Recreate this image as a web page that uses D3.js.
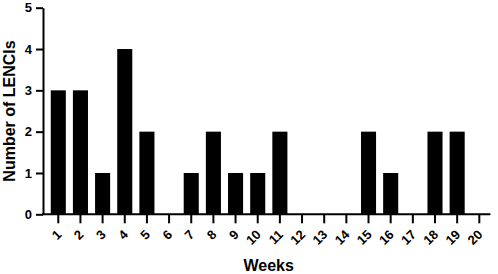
<!DOCTYPE html>
<html>
<head>
    <script src="https://cdn.jsdelivr.net/npm/d3@7"></script>
    <style>
        body { margin: 0; background: #fff; }
        text { font-family: Arial, "Liberation Sans", Helvetica, sans-serif; font-weight: bold; }
    </style>
</head>
<body>
    <svg width="498" height="274" id="mainsvg"></svg>
    <script>
        // data
        const weeks = ['1','2','3','4','5','6','7','8','9','10','11','12','13','14','15','16','17','18','19','20'];
        const lencis = [3, 3, 1, 4, 2, 0, 1, 2, 1, 1, 2, 0, 0, 0, 2, 1, 0, 2, 2, 0];
        const yTicks = [0, 1, 2, 3, 4, 5];

        const svg = d3.select('svg');
        const axisLeftX = 43;
        const yScale = d3.scaleLinear().domain([0, 5]).range([214.3, 7.7]);
        const xScale = d3.scaleBand().domain(weeks)
            .range([47.2, 490.4]).paddingInner(0.32).paddingOuter(0.16);

        // bars
        svg.append('g').selectAll('rect').data(weeks).join('rect')
            .attr('x', d => xScale(d))
            .attr('width', xScale.bandwidth())
            .attr('y', (d, i) => yScale(lencis[i]))
            .attr('height', (d, i) => yScale(0) - yScale(lencis[i]))
            .attr('fill', '#000');

        // y axis
        const yAxis = svg.append('g')
            .attr('transform', `translate(${axisLeftX},0)`)
            .call(d3.axisLeft(yScale).tickValues(yTicks).tickFormat(d3.format('d'))
                .tickSize(7).tickSizeOuter(0).tickPadding(4));
        yAxis.selectAll('path, line').attr('stroke', '#000').attr('stroke-width', 2);
        yAxis.selectAll('text').attr('font-size', 13).attr('fill', '#000')
            .style('font-family', 'Arial, "Liberation Sans", sans-serif').style('font-weight', 'bold');

        // x axis
        const xAxis = svg.append('g')
            .attr('transform', `translate(0,${yScale(0)})`)
            .call(d3.axisBottom(xScale).tickSize(9).tickSizeOuter(0));
        xAxis.select('.domain').remove();
        xAxis.append('line')
            .attr('x1', axisLeftX - 1).attr('x2', xScale.range()[1])
            .attr('stroke', '#000').attr('stroke-width', 2);
        xAxis.selectAll('line').attr('stroke', '#000').attr('stroke-width', 2);
        xAxis.selectAll('.tick text')
            .attr('font-size', 13).attr('fill', '#000')
            .style('font-family', 'Arial, "Liberation Sans", sans-serif').style('font-weight', 'bold')
            .attr('text-anchor', 'end')
            .attr('dy', null)
            .attr('y', 0)
            .attr('transform', 'translate(4,21) rotate(-45)');

        // titles
        svg.append('text')
            .attr('x', (axisLeftX + xScale.range()[1]) / 2 + 2)
            .attr('y', 271)
            .attr('text-anchor', 'middle')
            .attr('font-size', 16)
            .text('Weeks');
        svg.append('text')
            .attr('transform', 'translate(15,111) rotate(-90)')
            .attr('text-anchor', 'middle')
            .attr('font-size', 16)
            .text('Number of LENCIs');
    </script>
</body>
</html>
